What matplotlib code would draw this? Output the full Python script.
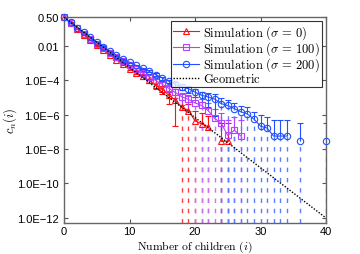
import matplotlib
matplotlib.use('Agg')
import numpy as np
import matplotlib.pyplot as plt

plt.rcParams['mathtext.fontset'] = 'cm'
plt.rcParams['font.family'] = ['Liberation Sans', 'DejaVu Sans']

# ---- data; 0 = no occurrence (not drawn on log axis) ----
x_red = list(range(0, 26))
c_red = [0.50, 0.22, 0.10, 0.047, 0.023, 0.0115, 5.9e-3, 3.2e-3, 1.66e-3, 8.9e-4, 4.9e-4,
         2.9e-4, 1.74e-4, 1.0e-4, 5.2e-5, 3.1e-5, 1.38e-5, 7.1e-6, 2.8e-6, 1.78e-6, 4.5e-7,
         3.0e-7, 2.0e-7, 0, 2.9e-8, 2.9e-8]
rel_red = [0.005, 0.01, 0.02, 0.03, 0.04, 0.05, 0.06, 0.08, 0.10, 0.12, 0.15, 0.2, 0.25, 0.3,
           0.4, 0.5, 0.7, 0.97, 1.5, 1.5, 2.5, 3.0, 3.5, 0, 10.7, 10.7]

x_pur = list(range(0, 28))
c_pur = [0.50, 0.23, 0.107, 0.054, 0.0275, 0.0141, 7.6e-3, 4.2e-3, 2.3e-3, 1.29e-3, 7.6e-4,
         4.5e-4, 2.75e-4, 1.66e-4, 1.0e-4, 6.0e-5, 3.5e-5, 2.0e-5, 1.12e-5, 7.9e-6, 5.0e-6,
         3.5e-6, 1.78e-6, 6.3e-7, 3.2e-7, 6.3e-8, 1.26e-7, 5.8e-8]
rel_pur = [0.005, 0.01, 0.015, 0.02, 0.03, 0.04, 0.05, 0.06, 0.08, 0.10, 0.12, 0.15, 0.18,
           0.22, 0.27, 0.33, 0.4, 0.5, 0.65, 0.8, 1.2, 1.4, 1.6, 2.5, 3.0, 7.3, 5.0, 7.3]

x_blu = list(range(0, 41))
c_blu = [0.50, 0.24, 0.117, 0.063, 0.034, 0.0174, 9.3e-3, 5.2e-3, 2.95e-3, 1.74e-3, 1.15e-3,
         7.6e-4, 5.1e-4, 3.4e-4, 2.2e-4, 1.41e-4, 9.1e-5, 6.0e-5, 4.3e-5, 3.3e-5, 2.1e-5,
         1.38e-5, 1.10e-5, 8.3e-6, 4.5e-6, 3.5e-6, 2.3e-6, 1.5e-6, 1.12e-6, 5.6e-7, 2.2e-7,
         1.7e-7, 5.8e-8, 5.8e-8, 5.8e-8, 0, 2.9e-8, 0, 0, 0, 2.9e-8]
rel_blu = [0.005, 0.01, 0.01, 0.02, 0.02, 0.03, 0.04, 0.05, 0.06, 0.07, 0.08, 0.10, 0.12,
           0.14, 0.17, 0.2, 0.25, 0.3, 0.36, 0.42, 0.5, 0.6, 0.75, 0.9, 1.0, 1.1, 1.2, 1.3,
           1.4, 1.57, 3.2, 3.5, 7.3, 7.3, 7.3, 0, 10.7, 0, 0, 0, 10.7]

x_geo = [0, 40]
c_geo = [0.49, 9.8e-13]

labels = [r'$\mathrm{Simulation}\ (\sigma\,=\,0)$',
          r'$\mathrm{Simulation}\ (\sigma\,=\,100)$',
          r'$\mathrm{Simulation}\ (\sigma\,=\,200)$',
          r'$\mathrm{Geometric}$']
yticks = [0.5, 1e-2, 1e-4, 1e-6, 1e-8, 1e-10, 1e-12]
ytick_labels = ['0.50', '0.01', '1.0E\u22124', '1.0E\u22126', '1.0E\u22128',
                '1.0E\u221210', '1.0E\u221212']
xticks = [0, 10, 20, 30, 40]

YMIN, YMAX = 5e-13, 0.5

fig = plt.figure(figsize=(3.6, 2.55), dpi=100)
ax = fig.add_axes([64/360, 1-224/255, 262/360, 206/255])
ax.set_yscale('log')
ax.set_xlim(0, 40)
ax.set_ylim(YMIN, YMAX)

series = [
    (x_red, c_red, rel_red, '#ff1010', '#ff4040', '^', 5.0),
    (x_pur, c_pur, rel_pur, '#b840ff', '#c870ff', 's', 4.0),
    (x_blu, c_blu, rel_blu, '#2050ff', '#5a7cff', 'o', 4.6),
]
handles = []
for xs, cs, rel, col, dcol, mk, ms in series:
    xs = np.asarray(xs, float); cs = np.asarray(cs, float); rel = np.asarray(rel, float)
    ok = cs > 0
    xk, ck, rk = xs[ok], cs[ok], rel[ok]
    up = ck * (1 + rk)
    solid = rk < 1
    lo = np.where(solid, ck * (1 - rk), ck)
    # dashed lower part where the error reaches zero
    ax.vlines(xk[~solid], YMIN, ck[~solid], colors=dcol, linestyles=(0, (3.2, 4.2)),
              linewidth=1.0, zorder=2)
    ax.vlines(xk, lo, up, colors=col, linewidth=0.8, zorder=3)
    ax.plot(xk, up, ls='none', marker='_', ms=4, mew=0.8, color=col, zorder=3)
    ax.plot(xk[solid], lo[solid], ls='none', marker='_', ms=4, mew=0.8, color=col, zorder=3)
    cline = np.where(ok, cs, np.nan)
    h, = ax.plot(xs, cline, color=col, lw=0.8, marker=mk, ms=ms, mfc='none', mec=col,
                 mew=0.8, zorder=4, clip_on=False)
    handles.append(h)

hg, = ax.plot(x_geo, c_geo, color='black', ls=(0, (1, 1.2)), lw=1.0, zorder=5)
handles.append(hg)

ax.set_yticks(yticks)
ax.set_yticklabels(ytick_labels)
ax.yaxis.set_minor_locator(matplotlib.ticker.NullLocator())
ax.set_xticks(xticks)
ax.tick_params(direction='in', length=3, width=0.8, colors='#555555', labelsize=8,
               labelcolor='black', top=True, right=True)
ax.tick_params(axis='x', pad=2)
for s in ax.spines.values():
    s.set_color('#666666')
    s.set_linewidth(1.0)

ax.set_xlabel(r'$\mathrm{Number\ of\ children}\ (i)$', fontsize=8.4)
ax.xaxis.set_label_coords(0.5, -0.078)
ax.set_ylabel(r'$c_n(i)$', fontsize=9)
ax.yaxis.set_label_coords(-0.172, 0.5)

leg = ax.legend(handles, labels, loc='upper right', bbox_to_anchor=(0.986, 0.982),
                borderaxespad=0, fontsize=9, frameon=True, fancybox=False,
                handlelength=2.1, handletextpad=0.3, labelspacing=-0.12, borderpad=0.2)
leg.get_frame().set_edgecolor('black')
leg.get_frame().set_linewidth(0.8)

fig.savefig('out.png', dpi=100)
